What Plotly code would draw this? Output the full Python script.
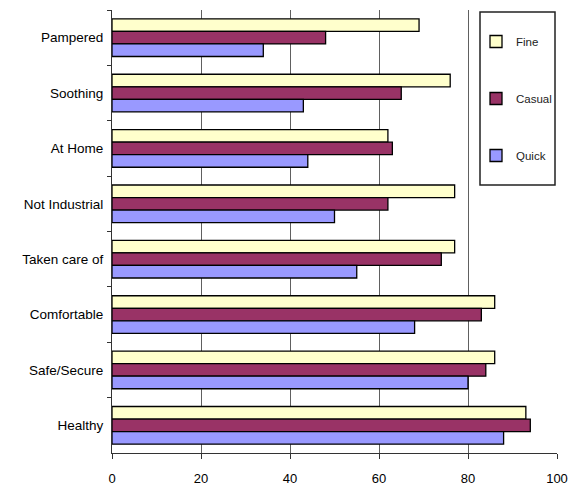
import plotly.graph_objects as go

# Survey attributes, top to bottom
categories = ["Pampered", "Soothing", "At Home", "Not Industrial",
              "Taken care of", "Comfortable", "Safe/Secure", "Healthy"]

fine = [69, 76, 62, 77, 77, 86, 86, 93]
casual = [48, 65, 63, 62, 74, 83, 84, 94]
quick = [34, 43, 44, 50, 55, 68, 80, 88]

x_ticks = [0, 20, 40, 60, 80, 100]

series = [
    ("Fine", fine, "#FFFFCC"),
    ("Casual", casual, "#993366"),
    ("Quick", quick, "#9999FF"),
]

fig = go.Figure()
for name, vals, color in series:
    fig.add_trace(go.Bar(
        y=categories, x=vals, name=name, orientation="h",
        legendgroup=name,
        marker=dict(color=color, line=dict(color="black", width=1.3)),
    ))

W, H = 569, 487
L, R, T, B = 112, 12, 10, 34
pw, ph = W - L - R, H - T - B


def px_x(v):
    return (v - L) / pw


def px_y(v):
    return (H - B - v) / ph


fig.update_layout(
    width=W, height=H,
    margin=dict(l=L, r=R, t=T, b=B, autoexpand=False),
    paper_bgcolor="white", plot_bgcolor="white",
    barmode="group", bargap=0.32, bargroupgap=0,
    font=dict(family="Liberation Sans, Arial, sans-serif", color="black"),
    showlegend=True,
    legend=dict(
        x=px_x(476), y=px_y(27), xanchor="left", yanchor="top",
        bgcolor="rgba(0,0,0,0)", borderwidth=0,
        traceorder="grouped", tracegroupgap=38,
        font=dict(size=11.5, color="#222222"),
        itemclick=False,
    ),
    shapes=[dict(
        type="rect", xref="paper", yref="paper",
        x0=px_x(480), x1=px_x(555), y0=px_y(185), y1=px_y(12),
        line=dict(color="#222222", width=1.5), fillcolor="white",
        layer="above",
    )],
)

fig.update_xaxes(
    range=[0, 100], tickvals=x_ticks, ticktext=[str(v) for v in x_ticks],
    showgrid=True, gridcolor="#606060", gridwidth=1,
    showline=True, linecolor="#333333", linewidth=1,
    ticks="outside", ticklen=5, tickcolor="#333333",
    tickfont=dict(size=13), ticklabelstandoff=8,
    zeroline=False, fixedrange=True, automargin=False,
)
fig.update_yaxes(
    categoryorder="array", categoryarray=categories, autorange="reversed",
    showline=True, linecolor="#333333", linewidth=1,
    ticks="outside", ticklen=4, tickcolor="#333333", tickson="boundaries",
    tickfont=dict(size=13.5), ticklabelstandoff=5,
    showgrid=False, zeroline=False, fixedrange=True, automargin=False,
)

fig.write_html("out.html")
